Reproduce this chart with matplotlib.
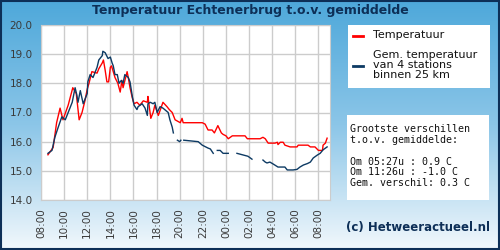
import numpy as np
import matplotlib
matplotlib.use("Agg")
import matplotlib.pyplot as plt
from matplotlib.patches import Rectangle

# uren na 08:00
t_temp = [0.6, 1.05, 1.35, 1.65, 1.9, 2.35, 2.75, 3.05, 3.3, 3.55, 3.8, 4.0, 4.15, 4.4,
          4.85, 5.0, 5.3, 5.4, 5.55, 5.7, 5.85, 6.0, 6.1, 6.25, 6.4, 6.65, 6.85, 7.0,
          7.1, 7.45, 7.55, 7.7, 7.9, 8.05, 8.3, 8.55, 8.85, 9.2, 9.25, 9.5, 9.7, 9.85,
          10.15, 10.55, 10.9, 11.1, 11.35, 11.6, 12.05, 12.2, 12.3, 13.95, 14.2, 14.45,
          14.8, 15.0, 15.3, 15.6, 15.75, 16.0, 16.2, 16.55, 17.65, 17.85, 18.95, 19.2,
          19.4, 19.65, 20.25, 20.45, 20.5, 20.7, 20.95, 21.1, 21.55, 22.15, 22.25, 23.1,
          23.3, 23.7, 24.0, 24.35, 24.4, 24.6, 24.75]
temp = [15.55, 15.8, 16.65, 17.15, 16.75, 17.25, 17.85, 17.65, 16.75, 17.0, 17.4, 17.8,
        18.0, 18.4, 18.35, 18.5, 18.7, 18.8, 18.45, 18.05, 18.05, 18.55, 18.6, 18.4, 18.2,
        18.0, 17.7, 18.1, 17.85, 18.4, 18.2, 17.85, 17.5, 17.3, 17.35, 17.25, 17.4, 17.35,
        17.55, 16.8, 17.0, 17.25, 16.9, 17.35, 17.2, 17.1, 17.0, 16.75, 16.65, 16.8, 16.65,
        16.65, 16.6, 16.4, 16.4, 16.3, 16.55, 16.3, 16.25, 16.2, 16.1, 16.2, 16.2, 16.1,
        16.1, 16.15, 16.1, 15.95, 15.95, 15.98, 15.9, 15.98, 15.98, 15.88, 15.82, 15.82,
        15.88, 15.88, 15.82, 15.82, 15.7, 15.7, 15.88, 15.95, 16.12]

t_gem = [0.6, 0.95, 1.2, 1.45, 1.8, 2.1, 2.25, 2.7, 2.95, 3.1, 3.2, 3.4, 3.65, 4.0, 4.05,
         4.25, 4.5, 4.85, 5.0, 5.3, 5.35, 5.55, 5.8, 6.0, 6.15, 6.25, 6.4, 6.6, 6.75, 6.95,
         7.1, 7.25, 7.55, 7.7, 7.9, 8.05, 8.3, 8.4, 8.75, 9.0, 9.2, 9.25, 9.45, 9.7, 9.85,
         10.05, 10.3, 10.55, 11.0, 11.15, 11.35, 11.45, 11.6, 11.8, 12.0, 12.1, 12.2, 12.35,
         13.6, 13.95, 14.45, 14.65, 14.9, 15.05, 15.25, 15.5, 15.75, 16.2, 16.5, 16.95,
         17.9, 18.25, 19.0, 19.2, 19.4, 19.55, 19.8, 20.1, 20.5, 21.1, 21.3, 21.8, 22.15,
         22.4, 22.7, 23.05, 23.3, 23.55, 23.9, 24.15, 24.4, 24.75]
gem = [15.6, 15.7, 16.15, 16.45, 16.85, 16.75, 16.9, 17.35, 17.85, 17.6, 17.35, 17.75,
       17.3, 17.65, 18.05, 18.3, 18.2, 18.55, 18.8, 18.95, 19.1, 19.05, 18.85, 18.9, 18.7,
       18.6, 18.3, 18.3, 18.0, 18.1, 18.0, 18.3, 18.2, 18.05, 17.55, 17.25, 17.1, 17.2,
       17.3, 17.15, 16.9, 17.3, 17.35, 17.3, 17.35, 17.0, 17.2, 17.15, 17.0, 16.75, 16.5,
       16.3, np.nan, 16.05, 16.0, 16.05, np.nan, 16.05, 16.0, 15.88, 15.78, 15.75, 15.6,
       np.nan, 15.7, 15.7, 15.6, 15.6, np.nan, 15.6, 15.5, 15.4, np.nan, 15.37, 15.3,
       15.27, 15.3, 15.23, 15.13, 15.13, 15.03, 15.03, 15.05, 15.13, 15.2, 15.25, 15.3,
       15.44, 15.54, 15.6, 15.72, 15.82]

tick_pos = list(range(0, 25, 2))
tick_labels = ["08:00", "10:00", "12:00", "14:00", "16:00", "18:00", "20:00",
               "22:00", "00:00", "02:00", "04:00", "06:00", "08:00"]
y_ticks = [14.0, 15.0, 16.0, 17.0, 18.0, 19.0, 20.0]

navy = "#0d2f57"

fig = plt.figure(figsize=(5, 2.5), dpi=100)

# achtergrond met verloop
bg = fig.add_axes([0, 0, 1, 1])
grad = np.linspace(0, 1, 256).reshape(-1, 1)
cmap = matplotlib.colors.LinearSegmentedColormap.from_list(
    "bg", ["#4ea8da", "#8cc6e8", "#f2f8fc"])
bg.imshow(grad, aspect="auto", cmap=cmap, extent=[0, 1, 0, 1])
bg.set_xlim(0, 1)
bg.set_ylim(0, 1)
bg.axis("off")
bg.add_patch(Rectangle((0.002, 0.004), 0.996, 0.992, fill=False, ec=navy, lw=1.5))

fig.text(0.5, 0.958, "Temperatuur Echtenerbrug t.o.v. gemiddelde", ha="center",
         va="center", fontsize=9, fontweight="bold", color=navy)

ax = fig.add_axes([0.082, 0.2, 0.578, 0.7])
ax.plot(t_temp, temp, color="#ff0000", lw=1)
ax.plot(t_gem, gem, color="#0d3a63", lw=1)
ax.set_xlim(0, 25)
ax.set_ylim(14, 20)
ax.set_xticks(tick_pos)
ax.set_xticklabels(tick_labels, rotation=90)
ax.set_yticks(y_ticks)
ax.set_yticklabels(["%.1f" % v for v in y_ticks])
ax.grid(True, color="#cccccc", lw=1)
ax.set_axisbelow(True)
ax.tick_params(length=0, labelsize=7.5, labelcolor="#3a3a3a", pad=6)
for s in ax.spines.values():
    s.set_color("#cccccc")

# legenda
bg.add_patch(Rectangle((0.696, 0.648), 0.284, 0.252, fc="white", ec="none"))
bg.plot([0.706, 0.726], [0.855, 0.855], color="#ff0000", lw=2)
bg.plot([0.706, 0.726], [0.738, 0.738], color="#0d3a63", lw=2)
fig.text(0.746, 0.858, "Temperatuur", fontsize=8, color="#111111", va="center")
fig.text(0.746, 0.74, "Gem. temperatuur\nvan 4 stations\nbinnen 25 km", fontsize=8,
         color="#111111", va="center", linespacing=0.95)

# verschillen
bg.add_patch(Rectangle((0.694, 0.2), 0.284, 0.34, fc="white", ec="none"))
fig.text(0.7, 0.375, "Grootste verschillen\nt.o.v. gemiddelde:\n\nOm 05:27u : 0.9 C\n"
         "Om 11:26u : -1.0 C\nGem. verschil: 0.3 C", family="DejaVu Sans Mono",
         fontsize=7.2, color="#111111", va="center", linespacing=1.1)

fig.text(0.98, 0.09, "(c) Hetweeractueel.nl", ha="right", va="center", fontsize=8.5,
         fontweight="bold", color=navy)

fig.savefig("out.png", dpi=100)
